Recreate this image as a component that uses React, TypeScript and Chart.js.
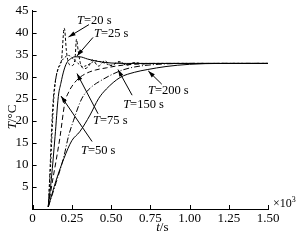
import React, { useEffect, useRef } from "react";
import { Chart, registerables } from "chart.js";

Chart.register(...registerables);

// time in 10^3 s, temperature in °C
const t20 = [0.1, 0.11, 0.12, 0.13, 0.145, 0.165, 0.185, 0.195, 0.2, 0.205, 0.215, 0.23, 0.25, 0.27, 0.28, 0.29, 0.305, 0.33, 0.36, 0.38, 0.42, 0.46, 0.5, 0.55, 0.6, 0.65, 0.7, 0.75, 1.5];
const v20 = [0.5, 8, 17, 24, 29, 32, 34, 39, 41, 40.5, 36, 33, 32.5, 34, 38.5, 36, 33, 31.8, 32.5, 33.8, 32.4, 33.6, 32.5, 33.4, 32.6, 33.2, 32.9, 33, 33];

const t25 = [0.1, 0.115, 0.125, 0.135, 0.15, 0.17, 0.2, 0.23, 0.26, 0.29, 0.32, 0.36, 0.4, 0.45, 0.5, 0.55, 0.6, 0.65, 0.7, 1.5];
const v25 = [0.5, 10, 18, 25, 30, 32.5, 34.2, 34.8, 34, 33, 32.3, 32.8, 33.6, 33.2, 32.6, 33.3, 32.8, 33.1, 33, 33];

const t50 = [0.1, 0.12, 0.143, 0.164, 0.18, 0.2, 0.217, 0.24, 0.27, 0.3, 0.35, 0.41, 0.5, 0.6, 1.5];
const v50 = [0.5, 7, 16.4, 25.5, 28.5, 31.5, 33.1, 34, 34.5, 34.5, 34, 33.5, 33.1, 33, 33];

const t75 = [0.1, 0.13, 0.15, 0.175, 0.206, 0.23, 0.26, 0.3, 0.345, 0.4, 0.47, 0.55, 0.7, 0.9, 1.5];
const v75 = [0.5, 7, 11, 16.4, 24.2, 26.5, 28.3, 29.8, 30.8, 31.5, 32, 32.5, 32.9, 33, 33];

const t150 = [0.1, 0.15, 0.2, 0.228, 0.26, 0.313, 0.37, 0.43, 0.557, 0.65, 0.8, 1.0, 1.5];
const v150 = [0.5, 6, 12, 16.4, 20, 25, 27.5, 29, 31.3, 32.2, 32.8, 33, 33];

const t200 = [0.1, 0.15, 0.2, 0.25, 0.3, 0.366, 0.42, 0.47, 0.557, 0.65, 0.73, 0.85, 1.0, 1.2, 1.5];
const v200 = [0.5, 6.5, 11.5, 15.5, 17.5, 21.3, 25, 27.2, 29.8, 31, 31.6, 32.3, 32.8, 33, 33];

const xTicks = [0, 0.25, 0.5, 0.75, 1.0, 1.25, 1.5];
const yTicks = [5, 10, 15, 20, 25, 30, 35, 40, 45];

// label: [name, textX, textY, lineFromX, lineFromY, arrowTipX, arrowTipY] (data units)
const labelNames = ["=20 s", "=25 s", "=50 s", "=75 s", "=150 s", "=200 s"];
const labelText = [[0.283, 42.0], [0.391, 39.1], [0.308, 12.4], [0.385, 19.3], [0.577, 22.9], [0.735, 26.0]];
const labelLine = [[0.359, 41.8], [0.385, 38.9], [0.379, 15.3], [0.417, 21.6], [0.634, 25.8], [0.823, 28.3]];
const labelTip = [[0.229, 39.0], [0.283, 34.7], [0.181, 25.6], [0.283, 30.7], [0.544, 31.6], [0.737, 31.3]];

const SERIF = "'Liberation Serif', 'DejaVu Serif', serif";

function pts(xs: number[], ys: number[]) {
  return xs.map((x, i) => ({ x, y: ys[i] }));
}

function drawParts(ctx: CanvasRenderingContext2D, x: number, y: number, parts: { t: string; i?: boolean }[], size: number) {
  let cx = x;
  for (const p of parts) {
    ctx.font = `${p.i ? "italic " : ""}${size}px ${SERIF}`;
    ctx.fillText(p.t, cx, y);
    cx += ctx.measureText(p.t).width;
  }
}

function partsWidth(ctx: CanvasRenderingContext2D, parts: { t: string; i?: boolean }[], size: number) {
  let w = 0;
  for (const p of parts) {
    ctx.font = `${p.i ? "italic " : ""}${size}px ${SERIF}`;
    w += ctx.measureText(p.t).width;
  }
  return w;
}

const decoPlugin = {
  id: "deco",
  afterDraw(chart: any) {
    const ctx: CanvasRenderingContext2D = chart.ctx;
    const xs = chart.scales.x;
    const ys = chart.scales.y;
    const area = chart.chartArea;
    ctx.save();
    ctx.strokeStyle = "#000";
    ctx.fillStyle = "#000";
    ctx.lineWidth = 1;
    ctx.setLineDash([]);
    // inward ticks
    ctx.beginPath();
    for (const v of xTicks) {
      const px = Math.round(xs.getPixelForValue(v)) + 0.5;
      ctx.moveTo(px, area.bottom);
      ctx.lineTo(px, area.bottom - 4);
    }
    for (const v of yTicks) {
      const py = Math.round(ys.getPixelForValue(v)) + 0.5;
      ctx.moveTo(area.left, py);
      ctx.lineTo(area.left + 4, py);
    }
    ctx.stroke();

    // annotations
    ctx.textBaseline = "alphabetic";
    ctx.textAlign = "left";
    for (let k = 0; k < labelNames.length; k++) {
      const tx = xs.getPixelForValue(labelText[k][0]);
      const ty = ys.getPixelForValue(labelText[k][1]);
      drawParts(ctx, tx, ty, [{ t: "T", i: true }, { t: labelNames[k] }], 12.5);
      const x0 = xs.getPixelForValue(labelLine[k][0]);
      const y0 = ys.getPixelForValue(labelLine[k][1]);
      const x1 = xs.getPixelForValue(labelTip[k][0]);
      const y1 = ys.getPixelForValue(labelTip[k][1]);
      ctx.beginPath();
      ctx.moveTo(x0, y0);
      ctx.lineTo(x1, y1);
      ctx.stroke();
      const ang = Math.atan2(y1 - y0, x1 - x0);
      const L = 7, W = 2.2;
      ctx.beginPath();
      ctx.moveTo(x1, y1);
      ctx.lineTo(x1 - L * Math.cos(ang) + W * Math.sin(ang), y1 - L * Math.sin(ang) - W * Math.cos(ang));
      ctx.lineTo(x1 - L * Math.cos(ang) - W * Math.sin(ang), y1 - L * Math.sin(ang) + W * Math.cos(ang));
      ctx.closePath();
      ctx.fill();
    }

    // x axis title
    const xt = [{ t: "t", i: true }, { t: "/s" }];
    const xw = partsWidth(ctx, xt, 13);
    drawParts(ctx, (area.left + area.right) / 2 + 12 - xw / 2, 231, xt, 13);

    // y axis title
    ctx.save();
    ctx.translate(16, 117);
    ctx.rotate(-Math.PI / 2);
    const yt = [{ t: "T", i: true }, { t: "/°C" }];
    const yw = partsWidth(ctx, yt, 13);
    drawParts(ctx, -yw / 2, 0, yt, 13);
    ctx.restore();

    // ×10^3
    ctx.font = `12px ${SERIF}`;
    ctx.fillText("×10", area.right + 5, 207);
    const w10 = ctx.measureText("×10").width;
    ctx.font = `8px ${SERIF}`;
    ctx.fillText("3", area.right + 5 + w10, 202);
    ctx.restore();
  },
};

export default function App() {
  const ref = useRef<HTMLCanvasElement>(null);
  useEffect(() => {
    document.body.style.margin = "0";
    const canvas = ref.current!;
    const mk = (label: string, xs: number[], ys: number[], dash: number[]) => ({
      label,
      data: pts(xs, ys),
      borderColor: "#000",
      borderWidth: 1,
      borderDash: dash,
      pointRadius: 0,
      fill: false,
      cubicInterpolationMode: "monotone" as const,
    });
    const chart = new Chart(canvas, {
      type: "line",
      data: {
        datasets: [
          mk("T=20 s", t20, v20, [3, 2]),
          mk("T=25 s", t25, v25, [2, 2]),
          mk("T=50 s", t50, v50, []),
          mk("T=75 s", t75, v75, [5, 3]),
          mk("T=150 s", t150, v150, [6, 2, 1, 2]),
          mk("T=200 s", t200, v200, []),
        ],
      },
      options: {
        animation: false,
        responsive: false,
        devicePixelRatio: 1,
        layout: { padding: { left: 0, top: 6.5, right: 35, bottom: 0 } },
        plugins: { legend: { display: false }, tooltip: { enabled: false } },
        scales: {
          x: {
            type: "linear",
            min: 0,
            max: 1.5,
            afterFit: (s: any) => { s.height = 33; },
            afterBuildTicks: (s: any) => { s.ticks = xTicks.map((v) => ({ value: v })); },
            ticks: {
              color: "#000",
              padding: 3,
              maxRotation: 0,
              autoSkip: false,
              font: { family: SERIF, size: 13, lineHeight: 1 },
              callback: (v: any) => (Number(v) === 0 ? "0" : Number(v).toFixed(2)),
            },
            grid: { display: true, drawOnChartArea: false, drawTicks: false },
            border: { display: true, color: "#000", width: 1 },
          },
          y: {
            type: "linear",
            min: 0,
            max: 45,
            afterFit: (s: any) => { s.width = 32.6; },
            afterBuildTicks: (s: any) => { s.ticks = [0, ...yTicks].map((v) => ({ value: v })); },
            ticks: {
              color: "#000",
              padding: 4,
              autoSkip: false,
              font: { family: SERIF, size: 13, lineHeight: 1 },
              callback: (v: any) => (Number(v) === 0 ? "" : String(v)),
            },
            grid: { display: true, drawOnChartArea: false, drawTicks: false },
            border: { display: true, color: "#000", width: 1 },
          },
        },
      },
      plugins: [decoPlugin],
    });
    return () => chart.destroy();
  }, []);
  return <canvas ref={ref} width={303} height={242} style={{ display: "block", width: 303, height: 242 }} />;
}
